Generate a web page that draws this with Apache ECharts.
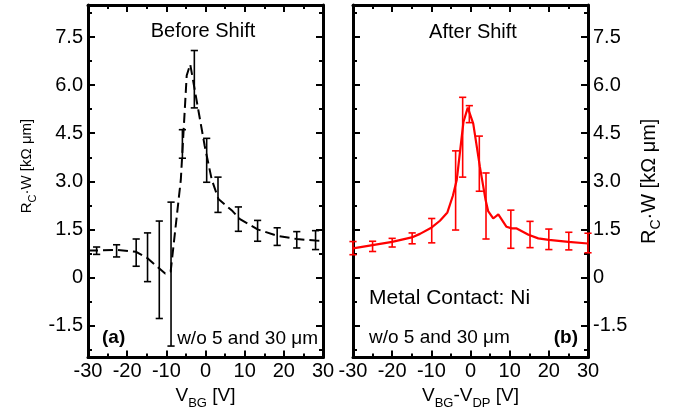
<!DOCTYPE html>
<html>
<head>
<meta charset="utf-8">
<script src="https://cdn.jsdelivr.net/npm/echarts@6/dist/echarts.min.js"></script>
<style>
  html, body { margin: 0; padding: 0; background: #fff; }
  #chart { width: 686px; height: 415px; }
</style>
</head>
<body>
<div id="chart"></div>
<script>
// Contact resistance R_C·W versus gate voltage, before and after aligning the Dirac points.

// (a) Before Shift: averaged curve (dashed) and error bars
const beforeLineX = [-30, -27.8, -22.7, -17.7, -14.8, -12, -10.3, -8.9, -6.3, -4.8, -3.9, -1.8, -0.2, 1.6, 3.3, 6.9, 8.8, 13.3, 18.3, 23.3, 28.1, 30];
const beforeLineY = [0.84, 0.84, 0.86, 0.8, 0.6, 0.3, 0.12, 0.18, 3.05, 6.3, 6.65, 5.2, 4.1, 3.05, 2.45, 2.07, 1.82, 1.5, 1.3, 1.2, 1.15, 1.14];
const beforeBarX    = [-27.8, -22.7, -17.7, -14.8, -11.8, -8.8, -5.9, -2.85, 0.3, 3.19, 8.4, 13.3, 18.3, 23.3, 28.1];
const beforeBarLow  = [0.72, 0.64, 0.35, -0.13, -1.28, -2.14, 3.72, 5.29, 2.97, 2.03, 1.44, 1.13, 1.0, 0.92, 0.87];
const beforeBarHigh = [0.95, 1.02, 1.2, 1.39, 1.76, 2.35, 4.61, 7.08, 4.34, 3.13, 2.2, 1.78, 1.55, 1.43, 1.46];

// (b) After Shift: averaged curve (solid red) and error bars
const afterLineX = [-30, -25, -20, -15, -12.9, -9.9, -7.8, -5.9, -4.5, -3.5, -1.8, -0.7, 0.7, 2.4, 3.8, 4.5, 5.8, 7.1, 9.2, 10.5, 11.8, 14.8, 17.3, 20, 25, 30];
const afterLineY = [0.91, 1.01, 1.11, 1.25, 1.36, 1.56, 1.77, 2.03, 2.55, 3.05, 4.85, 5.3, 4.8, 3.45, 2.45, 2.07, 1.84, 1.97, 1.58, 1.53, 1.53, 1.33, 1.22, 1.17, 1.11, 1.06];
const afterBarX    = [-30, -25, -20, -14.9, -9.9, -3.8, -2.0, -0.3, 2.25, 3.96, 10.3, 15.2, 20.0, 25.1, 30];
const afterBarLow  = [0.71, 0.81, 0.95, 1.05, 1.08, 1.48, 3.13, 4.83, 2.69, 1.2, 0.91, 0.93, 0.87, 0.86, 0.77];
const afterBarHigh = [1.12, 1.13, 1.22, 1.39, 1.84, 3.95, 5.62, 5.36, 4.41, 3.26, 2.1, 1.75, 1.51, 1.41, 1.38];

// Axis ticks
const yLabelValues = [-1.5, 0, 1.5, 3, 4.5, 6, 7.5];
const yMinorValues = [-2.25, -0.75, 0.75, 2.25, 3.75, 5.25, 6.75, 8.25];

const FONT = '"Liberation Sans", Arial, Helvetica, sans-serif';
const BLACK = '#000';
const RED = '#ff0000';

const zip = (xs, ys) => xs.map((x, i) => [x, ys[i]]);
const zip3 = (xs, a, b) => xs.map((x, i) => [x, a[i], b[i]]);

const tickStyle = { color: BLACK, width: 2 };
const axisLineStyle = { show: true, onZero: false, lineStyle: { color: BLACK, width: 3 } };

function richStyles(main, sub, lh) {
  return {
    m: { fontSize: main, lineHeight: lh, fontFamily: FONT, color: BLACK },
    s: { fontSize: sub, lineHeight: sub, verticalAlign: 'bottom', fontFamily: FONT, color: BLACK }
  };
}

function xAxisDef(grid, pos, withLabels, name) {
  return {
    type: 'value', gridIndex: grid, position: pos,
    min: -30, max: 30, interval: 10,
    axisLine: axisLineStyle,
    axisTick: { show: true, inside: true, length: 7, lineStyle: tickStyle },
    minorTick: { show: true, splitNumber: 2, length: 4, lineStyle: tickStyle },
    splitLine: { show: false }, minorSplitLine: { show: false },
    axisLabel: { show: withLabels, color: BLACK, fontSize: 20, fontFamily: FONT, margin: 4 },
    name: name || '', nameLocation: 'middle', nameGap: 18,
    nameTextStyle: { rich: richStyles(19, 13, 28) }
  };
}

function yAxisDef(grid, pos, major, withLabels, name, gap) {
  return {
    type: 'value', gridIndex: grid, position: pos,
    min: -2.5, max: 8.5,
    axisLine: major ? axisLineStyle : { show: false, onZero: false },
    axisTick: { show: true, inside: true, length: major ? 7 : 4,
                customValues: major ? yLabelValues : yMinorValues, lineStyle: tickStyle },
    splitLine: { show: false },
    axisLabel: {
      show: withLabels, customValues: yLabelValues, color: BLACK, fontSize: 20,
      fontFamily: FONT, margin: 5,
      formatter: v => (v === 0 ? '0' : v.toFixed(1))
    },
    name: name || '', nameLocation: 'middle', nameGap: gap || 0,
    nameTextStyle: { rich: richStyles(20, 14, 28) }
  };
}

function errorBars(color) {
  return function (params, api) {
    const x = api.value(0);
    const pLo = api.coord([x, api.value(1)]);
    const pHi = api.coord([x, api.value(2)]);
    const w = 3.6;
    const style = { stroke: color, lineWidth: 1.6, fill: null };
    return {
      type: 'group',
      children: [
        { type: 'line', shape: { x1: pLo[0], y1: pLo[1], x2: pHi[0], y2: pHi[1] }, style },
        { type: 'line', shape: { x1: pLo[0] - w, y1: pLo[1], x2: pLo[0] + w, y2: pLo[1] }, style },
        { type: 'line', shape: { x1: pHi[0] - w, y1: pHi[1], x2: pHi[0] + w, y2: pHi[1] }, style }
      ]
    };
  };
}

const yName = '{m|R}{s|C}{m|·W [kΩ μm]}';

function label(text, x, y, font, align) {
  return {
    type: 'text', x, y,
    style: { text, fill: BLACK, font, align, verticalAlign: 'middle', textAlign: align, textVerticalAlign: 'middle' }
  };
}

const option = {
  backgroundColor: '#fff',
  animation: false,
  grid: [
    { left: 88, top: 5, width: 235, height: 357 },
    { left: 353, top: 5, width: 235, height: 357 }
  ],
  xAxis: [
    xAxisDef(0, 'bottom', true, '{m|V}{s|BG}{m| [V]}'),
    xAxisDef(0, 'top', false),
    xAxisDef(1, 'bottom', true, '{m|V}{s|BG}{m|-V}{s|DP}{m| [V]}'),
    xAxisDef(1, 'top', false)
  ],
  yAxis: [
    yAxisDef(0, 'left', true, true),
    yAxisDef(0, 'left', false, false),
    yAxisDef(0, 'right', true, false),
    yAxisDef(0, 'right', false, false),
    yAxisDef(1, 'left', true, false),
    yAxisDef(1, 'left', false, false),
    yAxisDef(1, 'right', true, true, yName, 47),
    yAxisDef(1, 'right', false, false)
  ],
  series: [
    {
      type: 'line', xAxisIndex: 0, yAxisIndex: 0,
      data: zip(beforeLineX, beforeLineY),
      showSymbol: false, smooth: false,
      lineStyle: { color: BLACK, width: 2, type: [10, 5] },
      z: 3
    },
    {
      type: 'custom', xAxisIndex: 0, yAxisIndex: 0,
      data: zip3(beforeBarX, beforeBarLow, beforeBarHigh),
      encode: { x: 0, y: [1, 2] },
      renderItem: errorBars(BLACK),
      z: 4
    },
    {
      type: 'line', xAxisIndex: 2, yAxisIndex: 4,
      data: zip(afterLineX, afterLineY),
      showSymbol: false, smooth: false,
      lineStyle: { color: RED, width: 2.2 },
      z: 3
    },
    {
      type: 'custom', xAxisIndex: 2, yAxisIndex: 4,
      data: zip3(afterBarX, afterBarLow, afterBarHigh),
      encode: { x: 0, y: [1, 2] },
      renderItem: errorBars(RED),
      z: 4
    }
  ],
  graphic: [
    // left-hand axis title, set a little above the panel centre
    {
      type: 'text', x: 27, y: 166, rotation: Math.PI / 2,
      style: {
        text: yName, rich: richStyles(15, 11, 22),
        align: 'center', verticalAlign: 'middle', textAlign: 'center', textVerticalAlign: 'middle'
      }
    },
    label('Before Shift', 203, 31, '20px ' + FONT, 'center'),
    label('After Shift', 473, 32, '20px ' + FONT, 'center'),
    label('(a)', 102, 338, 'bold 19px ' + FONT, 'left'),
    label('w/o 5 and 30 μm', 318, 339, '19px ' + FONT, 'right'),
    label('Metal Contact: Ni', 369, 298, '21px ' + FONT, 'left'),
    label('w/o 5 and 30 μm', 369, 338, '19px ' + FONT, 'left'),
    label('(b)', 578, 338, 'bold 19px ' + FONT, 'right')
  ]
};

const chart = echarts.init(document.getElementById('chart'), null, { renderer: 'canvas' });
chart.setOption(option);
</script>
</body>
</html>
